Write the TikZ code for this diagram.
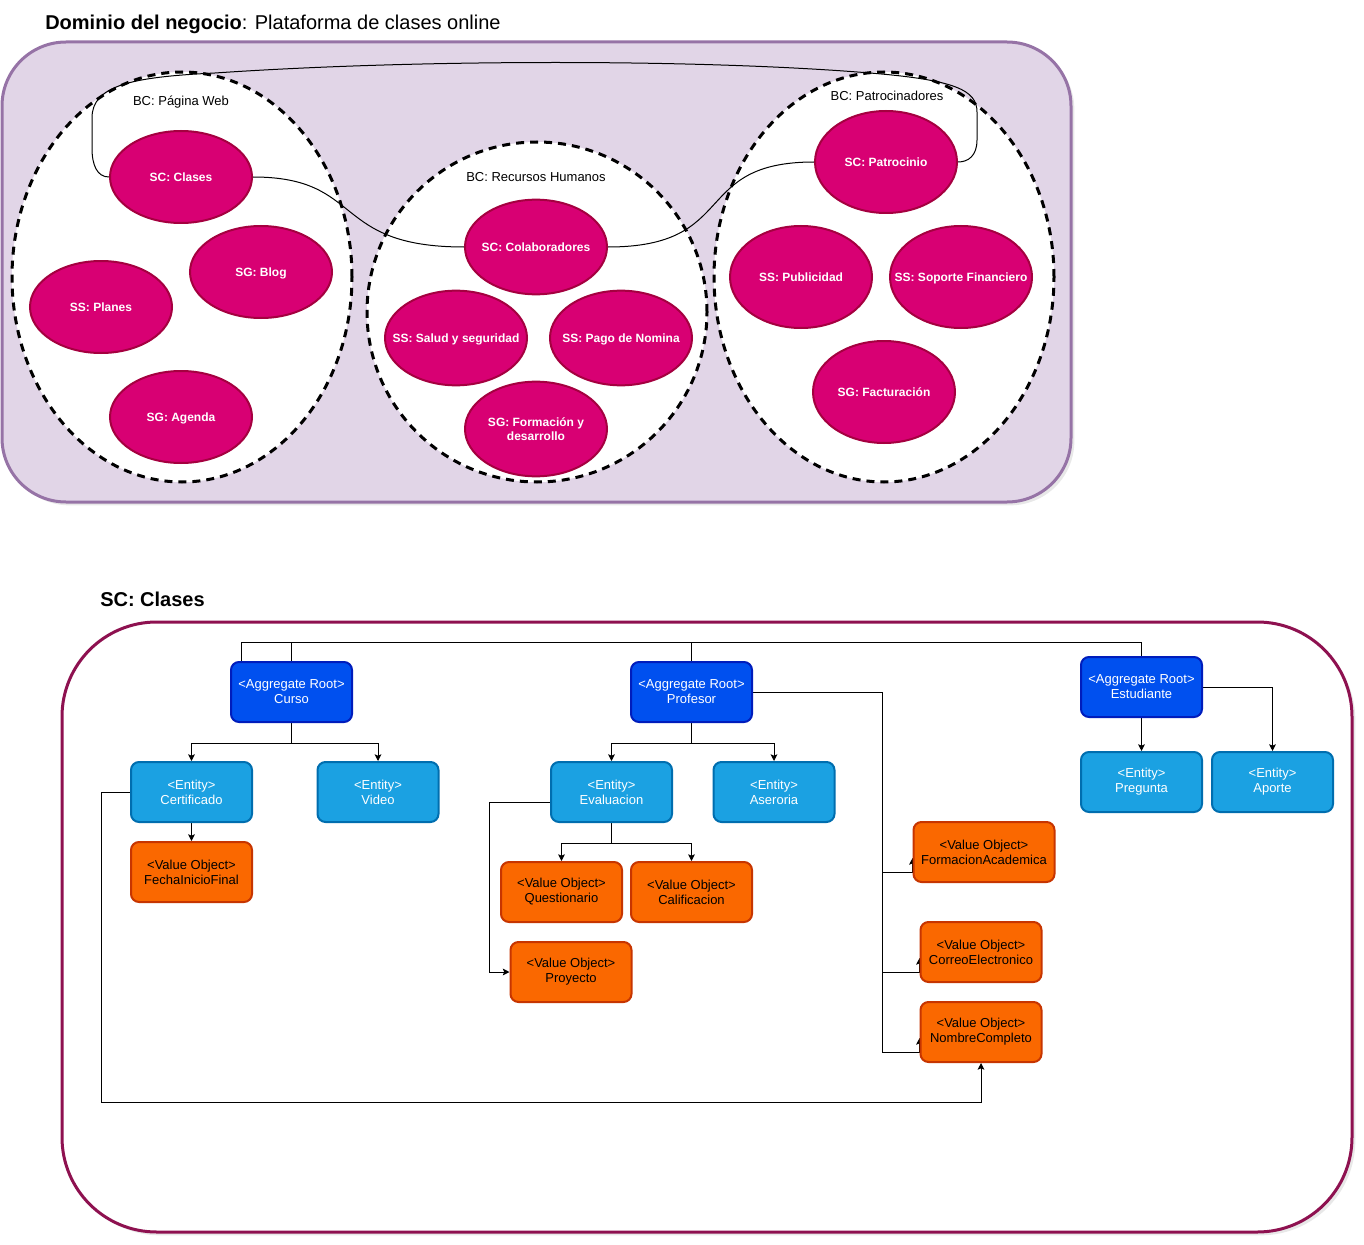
\documentclass[tikz,border=0pt]{standalone}
\usepackage{fontspec}
\setmainfont{Liberation Sans}
\usetikzlibrary{shapes.geometric,arrows.meta,shadows}

\definecolor{domfill}{HTML}{E1D5E7}
\definecolor{domline}{HTML}{9673A6}
\definecolor{mag}{HTML}{D80073}
\definecolor{magline}{HTML}{A50040}
\definecolor{agg}{HTML}{0050EF}
\definecolor{aggline}{HTML}{001DBC}
\definecolor{ent}{HTML}{1BA1E2}
\definecolor{entline}{HTML}{006EAF}
\definecolor{vo}{HTML}{FA6800}
\definecolor{voline}{HTML}{C73500}
\definecolor{ctxline}{HTML}{8E1150}

\pgfdeclarelayer{frame}
\pgfdeclarelayer{wires}
\pgfsetlayers{frame,wires,main}

% subdomain captions take no room, so the ellipse keeps its own size;
% the lowering puts the letters on the ellipse's centre
\newcommand{\sdcaption}[1]{\raisebox{-3.3pt}[0pt][0pt]{\makebox[0pt]{\begin{tabular}{@{}c@{}}#1\end{tabular}}}}

\tikzset{
  heading/.style={anchor=west, inner sep=0pt, font=\fontsize{15}{18}\selectfont},
  bcarea/.style={ellipse, draw=black, fill=white, line width=2.25pt,
    dash pattern=on 6pt off 4.5pt, inner sep=0pt},
  bclabel/.style={inner sep=0pt, font=\fontsize{9.75}{11}\selectfont},
  subdom/.style={ellipse, draw=magline, fill=mag, line width=1.5pt,
    minimum width=106.5pt, minimum height=69pt, inner sep=0pt, text=white,
    font=\fontsize{9}{10.5}\selectfont\bfseries},
  link/.style={draw=black, line width=0.75pt},
  arr/.style={link, -{Stealth[length=5pt,width=5pt,inset=1pt]}},
  box/.style={rectangle, rounded corners=6pt, line width=1.5pt,
    minimum width=90.75pt, minimum height=45pt, inner sep=0pt, align=center,
    font=\fontsize{9.75}{11.25}\selectfont},
  aggbox/.style={box, fill=agg, draw=aggline, text=white},
  entbox/.style={box, fill=ent, draw=entline, text=white},
  vobox/.style={box, fill=vo, draw=voline, text=black},
}

\begin{document}
\begin{tikzpicture}[x=0.75pt, y=-0.75pt]
\useasboundingbox (0,0) rectangle (1364,1245);

% ---------------- Business domain ----------------
\node[heading] (domtitle) at (45,24) {\textbf{Dominio del negocio}: Plataforma de clases online};

\node[rectangle, rounded corners=48pt, fill=domfill, draw=domline, line width=2.25pt,
      minimum width=801.75pt, minimum height=345pt, inner sep=0pt,
      drop shadow={opacity=0.18, shadow xshift=2.5pt, shadow yshift=-2.5pt}]
      (domain) at (536.5,272) {};

% bounded contexts
\node[bcarea, minimum width=255pt, minimum height=307.5pt] (bcweb) at (182,277) {};
\node[bcarea, minimum width=255pt, minimum height=255pt] (bcrh) at (537,312) {};
\node[bcarea, minimum width=255pt, minimum height=307.5pt] (bcpat) at (884,277) {};

\node[bclabel] (lblweb) at (181,102) {BC: Página Web};
\node[bclabel] (lblrh) at (536,177) {BC: Recursos Humanos};
\node[bclabel] (lblpat) at (887,96) {BC: Patrocinadores};

% subdomains
\node[subdom] (clases) at (181,177) {\sdcaption{SC: Clases}};
\node[subdom] (blog) at (261,272) {\sdcaption{SG: Blog}};
\node[subdom] (planes) at (101,307) {\sdcaption{SS: Planes}};
\node[subdom] (agenda) at (181,417) {\sdcaption{SG: Agenda}};

\node[subdom, minimum height=71pt] (colab) at (536,247) {\sdcaption{SC: Colaboradores}};
\node[subdom, minimum height=71pt] (salud) at (456,338) {\sdcaption{SS: Salud y seguridad}};
\node[subdom, minimum height=71pt] (pago) at (621,338) {\sdcaption{SS: Pago de Nomina}};
\node[subdom, minimum height=71pt] (formacion) at (536,429) {\sdcaption{SG: Formación y\\desarrollo}};

\node[subdom, minimum height=76.5pt] (patro) at (886,162) {\sdcaption{SC: Patrocinio}};
\node[subdom, minimum height=76.5pt] (publi) at (801,277) {\sdcaption{SS: Publicidad}};
\node[subdom, minimum height=76.5pt] (soporte) at (961,277) {\sdcaption{SS: Soporte Financiero}};
\node[subdom, minimum height=76.5pt] (factura) at (884,392) {\sdcaption{SG: Facturación}};

% relations between core subdomains
\draw[link] (clases.east) .. controls (365,177) and (330,247) .. (colab.west);
\draw[link] (colab.east) .. controls (740,247) and (690,162) .. (patro.west);
\draw[link] (clases.west) .. controls (97,177) and (92,165) .. (92,148)
  -- (92,118) .. controls (92,86) and (130,77) .. (215,73)
  .. controls (420,59) and (700,59) .. (870,73)
  .. controls (955,80) and (977,90) .. (977,112)
  -- (977,140) .. controls (977,156) and (968,162) .. (patro.east);

% ---------------- SC: Clases ----------------
\node[heading] (sctitle) at (100,599) {\textbf{SC: Clases}};

\begin{pgfonlayer}{frame}
\node[rectangle, rounded corners=71pt, fill=white, draw=ctxline, line width=2.25pt,
      minimum width=967.5pt, minimum height=457.5pt, inner sep=0pt,
      drop shadow={opacity=0.18, shadow xshift=2.5pt, shadow yshift=-2.5pt}]
      (core) at (707,927) {};
\end{pgfonlayer}

% aggregate roots
\node[aggbox] (curso) at (291.5,692) {<Aggregate Root>\\Curso};
\node[aggbox] (profesor) at (691.5,692) {<Aggregate Root>\\Profesor};
\node[aggbox] (estudiante) at (1141.5,687) {<Aggregate Root>\\Estudiante};

% entities
\node[entbox] (cert) at (191.5,792) {<Entity>\\Certificado};
\node[entbox] (video) at (378,792) {<Entity>\\Video};
\node[entbox] (eval) at (611.5,792) {<Entity>\\Evaluacion};
\node[entbox] (aseo) at (774,792) {<Entity>\\Aseroria};
\node[entbox] (pregunta) at (1141.5,782) {<Entity>\\Pregunta};
\node[entbox] (aporte) at (1272.5,782) {<Entity>\\Aporte};

% value objects
\node[vobox] (fecha) at (191.5,872) {<Value Object>\\FechaInicioFinal};
\node[vobox] (quest) at (561.5,892) {<Value Object>\\Questionario};
\node[vobox] (calif) at (691.5,892) {<Value Object>\\Calificacion};
\node[vobox] (proy) at (571,972) {<Value Object>\\Proyecto};
\node[vobox, minimum width=105.75pt] (formac) at (984,852) {<Value Object>\\FormacionAcademica};
\node[vobox] (correo) at (981,952) {<Value Object>\\CorreoElectronico};
\node[vobox] (nombre) at (981,1032) {<Value Object>\\NombreCompleto};

% connectors, kept beneath the boxes
\coordinate (pbus) at (882,692);
\coordinate (certbend) at (101,1102);

\begin{pgfonlayer}{wires}
\draw[link] ([xshift=-37.5pt]curso.north) -- ++(0,-19) -| (estudiante.north);
\draw[link] (curso.north) -- ++(0,-19);
\draw[link] (profesor.north) -- ++(0,-19);

\draw[arr] (curso.south) -- ++(0,20) -| (cert.north);
\draw[arr] (curso.south) -- ++(0,20) -| (video.north);
\draw[arr] (cert.south) -- (fecha.north);
\draw[arr] (cert.west) -| (certbend) -| (nombre.south);

\draw[arr] (profesor.south) -- ++(0,20) -| (eval.north);
\draw[arr] (profesor.south) -- ++(0,20) -| (aseo.north);
\draw[arr] (eval.south) -- ++(0,20) -| (quest.north);
\draw[arr] (eval.south) -- ++(0,20) -| (calif.north);
\draw[arr] ([yshift=-7.5pt]eval.west) -| ([xshift=-15pt]proy.west) -- (proy.west);

\draw[arr] (profesor.east) -- (pbus) |- ([yshift=-15pt]formac.west) -- ([yshift=-4.5pt]formac.west);
\draw[arr] (pbus) |- ([yshift=-15pt]correo.west) -- ([yshift=-4.5pt]correo.west);
\draw[arr] (pbus) |- ([yshift=-15pt]nombre.west) -- ([yshift=-4.5pt]nombre.west);

\draw[arr] (estudiante.south) -- (pregunta.north);
\draw[arr] (estudiante.east) -| (aporte.north);
\end{pgfonlayer}

\end{tikzpicture}
\end{document}
